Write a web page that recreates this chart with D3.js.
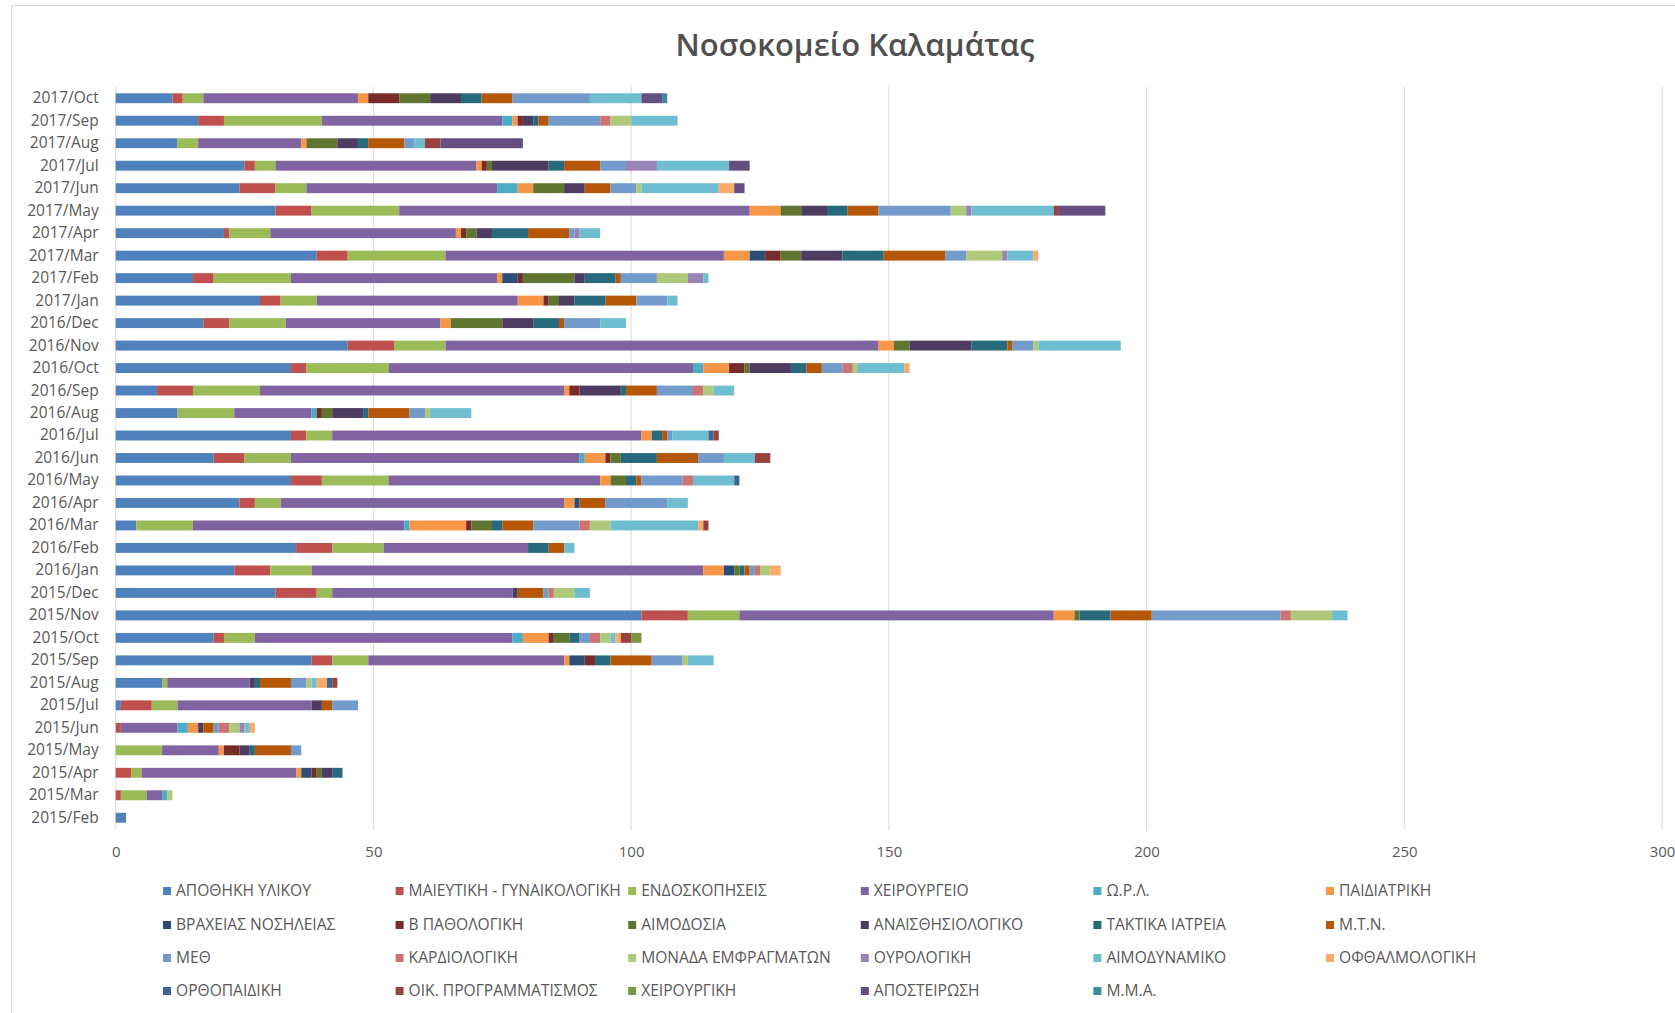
<!DOCTYPE html>
<html><head><meta charset="utf-8">
<script src="https://cdn.jsdelivr.net/npm/d3@7"></script>
<style>
html,body{margin:0;padding:0;background:#fff;}
svg{display:block;font-family:"Open Sans","Noto Sans",sans-serif;}
</style></head>
<body>
<svg id="chart" width="1675" height="1013"></svg>
<script>
const title = "Νοσοκομείο Καλαμάτας";
const categories = ["2015/Feb","2015/Mar","2015/Apr","2015/May","2015/Jun","2015/Jul","2015/Aug","2015/Sep","2015/Oct","2015/Nov","2015/Dec",
  "2016/Jan","2016/Feb","2016/Mar","2016/Apr","2016/May","2016/Jun","2016/Jul","2016/Aug","2016/Sep","2016/Oct","2016/Nov","2016/Dec",
  "2017/Jan","2017/Feb","2017/Mar","2017/Apr","2017/May","2017/Jun","2017/Jul","2017/Aug","2017/Sep","2017/Oct"];
const seriesNames = ["ΑΠΟΘΗΚΗ ΥΛΙΚΟΥ","ΜΑΙΕΥΤΙΚΗ - ΓΥΝΑΙΚΟΛΟΓΙΚΗ","ΕΝΔΟΣΚΟΠΗΣΕΙΣ","ΧΕΙΡΟΥΡΓΕΙΟ","Ω.Ρ.Λ.","ΠΑΙΔΙΑΤΡΙΚΗ",
  "ΒΡΑΧΕΙΑΣ ΝΟΣΗΛΕΙΑΣ","Β ΠΑΘΟΛΟΓΙΚΗ","ΑΙΜΟΔΟΣΙΑ","ΑΝΑΙΣΘΗΣΙΟΛΟΓΙΚΟ","ΤΑΚΤΙΚΑ ΙΑΤΡΕΙΑ","Μ.Τ.Ν.",
  "ΜΕΘ","ΚΑΡΔΙΟΛΟΓΙΚΗ","ΜΟΝΑΔΑ ΕΜΦΡΑΓΜΑΤΩΝ","ΟΥΡΟΛΟΓΙΚΗ","ΑΙΜΟΔΥΝΑΜΙΚΟ","ΟΦΘΑΛΜΟΛΟΓΙΚΗ",
  "ΟΡΘΟΠΑΙΔΙΚΗ","ΟΙΚ. ΠΡΟΓΡΑΜΜΑΤΙΣΜΟΣ","ΧΕΙΡΟΥΡΓΙΚΗ","ΑΠΟΣΤΕΙΡΩΣΗ","Μ.Μ.Α."];
const seriesColors = ["#4F81BD","#C0504D","#9BBB59","#8064A2","#4BACC6","#F79646",
  "#2C4D75","#772C2A","#5F7530","#4D3B62","#276A7C","#B65708",
  "#729ACA","#CD7371","#AFC97A","#9983B5","#6FBDD1","#F9AB6B",
  "#3A6595","#984240","#7B9746","#664F80","#3B8BA0"];
const xTicks = [0,50,100,150,200,250,300];

// values per series, in category order (2015/Feb ... 2017/Oct)
const apothiki      = [2,0,0,0,0,1,9,38,19,102,31, 23,35,4,24,34,19,34,12,8,34,45,17, 28,15,39,21,31,24,25,12,16,11];
const maieutiki     = [0,1,3,0,1,6,0,4,2,9,8, 7,7,0,3,6,6,3,0,7,3,9,5, 4,4,6,1,7,7,2,0,5,2];
const endoskopiseis = [0,5,2,9,0,5,1,7,6,10,3, 8,10,11,5,13,9,5,11,13,16,10,11, 7,15,19,8,17,6,4,4,19,4];
const xeirourgeio   = [0,3,30,11,11,26,16,38,50,61,35, 76,28,41,55,41,56,60,15,59,59,84,30, 39,40,54,36,68,37,39,20,35,30];
const orl           = [0,1,0,0,2,0,0,0,2,0,0, 0,0,1,0,0,1,0,1,0,2,0,0, 0,0,0,0,0,4,0,0,2,0];
const paidiatriki   = [0,0,1,1,2,0,0,1,5,4,0, 4,0,11,2,2,4,2,0,1,5,3,2, 5,1,5,1,6,3,1,1,1,2];
const vraxeias      = [0,0,2,0,0,0,0,3,0,0,0, 2,0,0,1,0,0,0,0,0,0,0,0, 0,3,3,0,0,0,0,0,0,0];
const bPathologiki  = [0,0,1,3,0,0,0,2,1,0,0, 0,0,1,0,0,1,0,1,2,3,0,0, 1,1,3,1,0,0,1,0,1,6];
const aimodosia     = [0,0,1,0,0,0,0,0,3,1,0, 1,0,4,0,3,2,0,2,0,1,3,10, 2,10,4,2,4,6,1,6,0,6];
const anaisthisio   = [0,0,2,2,1,2,1,0,0,0,1, 0,0,0,0,0,0,0,6,8,8,12,6, 3,2,8,3,5,4,11,4,2,6];
const taktika       = [0,0,2,1,0,0,1,3,2,6,0, 1,4,2,0,2,7,2,1,1,3,7,5, 6,6,8,7,4,0,3,2,1,4];
const mtn           = [0,0,0,7,2,2,6,8,0,8,5, 1,3,6,5,1,8,1,8,6,3,1,1, 6,1,12,8,6,5,7,7,2,6];
const meth          = [0,0,0,2,1,5,3,6,2,25,1, 1,0,9,12,8,5,1,3,7,4,4,7, 6,7,4,1,14,5,5,2,10,15];
const kardiologiki  = [0,0,0,0,2,0,0,0,2,2,1, 1,0,2,0,2,0,0,0,2,2,0,0, 0,0,0,0,0,0,0,0,2,0];
const monadaEmfr    = [0,1,0,0,2,0,1,1,2,8,4, 2,0,4,0,0,0,0,1,2,1,1,0, 0,6,7,0,3,1,0,0,4,0];
const ourologiki    = [0,0,0,0,1,0,0,0,0,0,0, 0,0,0,0,0,0,0,0,0,0,0,0, 0,3,1,1,1,0,6,0,0,0];
const aimodynamiko  = [0,0,0,0,1,0,1,5,1,3,3, 0,2,17,4,8,6,7,8,4,9,16,5, 2,1,5,4,16,15,14,2,9,10];
const ofthalmo      = [0,0,0,0,1,0,2,0,1,0,0, 2,0,1,0,0,0,0,0,0,1,0,0, 0,0,1,0,0,3,0,0,0,0];
const orthopaidiki  = [0,0,0,0,0,0,1,0,0,0,0, 0,0,0,0,1,0,1,0,0,0,0,0, 0,0,0,0,0,0,0,0,0,0];
const oikProgr      = [0,0,0,0,0,0,1,0,2,0,0, 0,0,1,0,0,3,1,0,0,0,0,0, 0,0,0,0,1,0,0,3,0,0];
const xeirourgiki   = [0,0,0,0,0,0,0,0,2,0,0, 0,0,0,0,0,0,0,0,0,0,0,0, 0,0,0,0,0,0,0,0,0,0];
const apostairosi   = [0,0,0,0,0,0,0,0,0,0,0, 0,0,0,0,0,0,0,0,0,0,0,0, 0,0,0,0,9,2,4,16,0,4];
const mma           = [0,0,0,0,0,0,0,0,0,0,0, 0,0,0,0,0,0,0,0,0,0,0,0, 0,0,0,0,0,0,0,0,0,1];

const seriesValues = [apothiki,maieutiki,endoskopiseis,xeirourgeio,orl,paidiatriki,vraxeias,bPathologiki,aimodosia,
  anaisthisio,taktika,mtn,meth,kardiologiki,monadaEmfr,ourologiki,aimodynamiko,ofthalmo,orthopaidiki,oikProgr,
  xeirourgiki,apostairosi,mma];

const table = categories.map((c,i)=>{
  const row = {cat:c};
  seriesNames.forEach((n,j)=>{ row[n] = seriesValues[j][i]; });
  return row;
});

const svg = d3.select("#chart");
const textColor = "#595959";

// frame
svg.append("rect").attr("x",11.5).attr("y",5.5).attr("width",1700).attr("height",1100)
  .attr("fill","#fff").attr("stroke","#D9D9D9").attr("stroke-width",1);

svg.append("text").attr("x",855).attr("y",56).attr("text-anchor","middle")
  .attr("font-size",31).attr("font-weight",600).attr("fill","#505050").text(title);

const x = d3.scaleLinear().domain([0,300]).range([115.7,1662]);
const y = d3.scaleBand().domain(categories.slice().reverse()).range([87,829])
  .paddingInner(0.56).paddingOuter(0.28);

// gridlines
svg.append("g").selectAll("line").data(xTicks).join("line")
  .attr("x1",d=>x(d)).attr("x2",d=>x(d)).attr("y1",87).attr("y2",830)
  .attr("stroke","#D9D9D9").attr("stroke-width",1);

const stack = d3.stack().keys(seriesNames);
const layers = stack(table);

svg.append("g").selectAll("g").data(layers).join("g")
  .attr("fill",(d,i)=>seriesColors[i])
  .selectAll("rect").data(d=>d).join("rect")
  .attr("x",d=>x(d[0])).attr("width",d=>Math.max(0,x(d[1])-x(d[0])))
  .attr("y",d=>y(d.data.cat)).attr("height",y.bandwidth());

// y axis
const yAxis = svg.append("g").attr("transform",`translate(${x(0)},0)`)
  .call(d3.axisLeft(y).tickSize(0).tickPadding(17));
yAxis.select(".domain").remove();
yAxis.selectAll("text").attr("font-size",15.5).attr("fill",textColor)
  .attr("font-family","'Open Sans','Noto Sans',sans-serif");

// x axis
const xAxis = svg.append("g").attr("transform",`translate(0,838)`)
  .call(d3.axisBottom(x).tickValues(xTicks).tickSize(0).tickPadding(8));
xAxis.select(".domain").remove();
xAxis.selectAll("text").attr("font-size",15).attr("fill",textColor)
  .attr("font-family","'Open Sans','Noto Sans',sans-serif");

// legend
const legCols = 6, colW = 232.6, legX0 = 163, legY = [891,925,958,991];
const leg = svg.append("g").selectAll("g").data(seriesNames).join("g")
  .attr("transform",(d,i)=>`translate(${legX0 + (i%legCols)*colW},${legY[Math.floor(i/legCols)]})`);
leg.append("rect").attr("x",0).attr("y",-4).attr("width",8).attr("height",8)
  .attr("fill",(d,i)=>seriesColors[i]);
leg.append("text").attr("x",13).attr("y",0).attr("dy","0.35em")
  .attr("font-size",15.6).attr("fill",textColor).text(d=>d);
</script>
</body></html>
